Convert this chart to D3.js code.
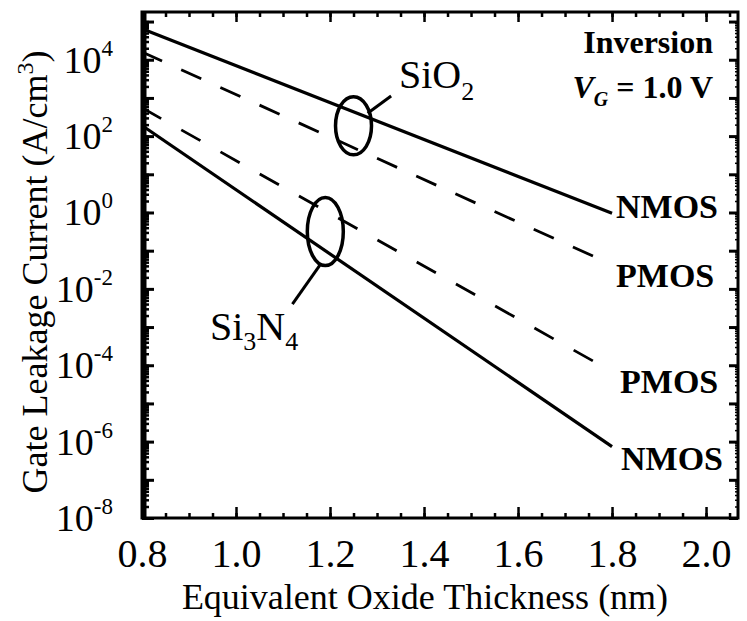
<!DOCTYPE html>
<html>
<head>
<meta charset="utf-8">
<script src="https://cdn.jsdelivr.net/npm/d3@7"></script>
<style>
  body { margin: 0; background: #fff; }
  svg { display: block; font-family: "Liberation Serif", "Times New Roman", serif; }
</style>
</head>
<body>
<div id="chart"></div>
<script>

// data
const THICKNESS = [0.8, 1.8];
const SIO2_NMOS = [6.5e4, 0.95];
const SIO2_PMOS = [1.6e4, 4.3e-2];
const SI3N4_PMOS = [5.5e2, 6.8e-5];
const SI3N4_NMOS = [1.9e2, 7.4e-7];

const X_TICKS = [0.8, 1.0, 1.2, 1.4, 1.6, 1.8, 2.0];
const Y_TICK_EXP = [-8, -6, -4, -2, 0, 2, 4];

// frame
const FRAME_WIDTH = 747;
const FRAME_HEIGHT = 621;
const PLOT = {left: 142, right: 738, top: 12, bottom: 518};

const SVG = d3.select("#chart")
              .append("svg")
                .attr("width", FRAME_WIDTH)
                .attr("height", FRAME_HEIGHT);

const X_SCALE = d3.scaleLinear()
                  .domain([0.8, 2.068])
                  .range([PLOT.left, PLOT.right]);

const Y_SCALE = d3.scaleLog()
                  .domain([1e-8, Math.pow(10, 5.25)])
                  .range([PLOT.bottom, PLOT.top]);

// minor ticks
const xMinor = d3.range(0.8, 2.07, 0.05);
const yMinor = [];
for (let e = -8; e <= 5; e++) {
  for (let m = 1; m <= 9; m++) {
    const v = m * Math.pow(10, e);
    if (v <= Math.pow(10, 5.25)) yMinor.push(v);
  }
}

// bottom axis, ticks pointing in
SVG.append("g")
    .attr("transform", "translate(0," + PLOT.bottom + ")")
    .call(d3.axisBottom(X_SCALE).tickValues(xMinor).tickSize(-5).tickFormat(""))
    .call(g => g.select(".domain").remove())
    .selectAll("line").attr("stroke-width", 2.5);

SVG.append("g")
    .attr("transform", "translate(0," + PLOT.bottom + ")")
    .call(d3.axisBottom(X_SCALE).tickValues(X_TICKS).tickSize(-11).tickPadding(21).tickFormat(d3.format(".1f")))
    .call(g => g.select(".domain").remove())
    .call(g => g.selectAll("line").attr("stroke-width", 2.5))
    .call(g => g.selectAll("text")
                .attr("font-family", "Liberation Serif")
                .attr("font-size", 40)
                .attr("fill", "#000"));

// top axis
SVG.append("g")
    .attr("transform", "translate(0," + PLOT.top + ")")
    .call(d3.axisTop(X_SCALE).tickValues(xMinor).tickSize(-5).tickFormat(""))
    .call(g => g.select(".domain").remove())
    .selectAll("line").attr("stroke-width", 2.5);

SVG.append("g")
    .attr("transform", "translate(0," + PLOT.top + ")")
    .call(d3.axisTop(X_SCALE).tickValues(X_TICKS).tickSize(-10).tickFormat(""))
    .call(g => g.select(".domain").remove())
    .selectAll("line").attr("stroke-width", 2.5);

// left axis, dense log ticks
SVG.append("g")
    .attr("transform", "translate(" + PLOT.left + ",0)")
    .call(d3.axisLeft(Y_SCALE).tickValues(yMinor).tickSize(-7).tickFormat(""))
    .call(g => g.select(".domain").remove())
    .selectAll("line").attr("stroke-width", 2.5);

SVG.append("g")
    .attr("transform", "translate(" + PLOT.left + ",0)")
    .call(d3.axisLeft(Y_SCALE).tickValues(d3.range(-8, 6).map(e => Math.pow(10, e))).tickSize(-12).tickFormat(""))
    .call(g => g.select(".domain").remove())
    .selectAll("line").attr("stroke-width", 3);

// right axis
SVG.append("g")
    .attr("transform", "translate(" + PLOT.right + ",0)")
    .call(d3.axisRight(Y_SCALE).tickValues(yMinor).tickSize(-3).tickFormat(""))
    .call(g => g.select(".domain").remove())
    .selectAll("line").attr("stroke-width", 1.5);

SVG.append("g")
    .attr("transform", "translate(" + PLOT.right + ",0)")
    .call(d3.axisRight(Y_SCALE).tickValues(d3.range(-8, 6).map(e => Math.pow(10, e))).tickSize(-9).tickFormat(""))
    .call(g => g.select(".domain").remove())
    .selectAll("line").attr("stroke-width", 3);

// y tick labels 10^n
const yLabels = SVG.append("g")
    .selectAll("text")
    .data(Y_TICK_EXP)
    .enter()
    .append("text")
      .attr("x", 113)
      .attr("y", (d) => { return Y_SCALE(Math.pow(10, d)) + 13; })
      .attr("text-anchor", "end")
      .attr("font-size", 38);

yLabels.append("tspan").text("10");
yLabels.append("tspan")
    .attr("dy", -17)
    .attr("font-size", 23)
    .text((d) => { return d < 0 ? "-" + Math.abs(d) : "" + d; });

// frame box
SVG.append("rect")
    .attr("x", PLOT.left)
    .attr("y", PLOT.top)
    .attr("width", PLOT.right - PLOT.left)
    .attr("height", PLOT.bottom - PLOT.top)
    .attr("fill", "none")
    .attr("stroke", "#000")
    .attr("stroke-width", 3);

SVG.append("line")
    .attr("x1", PLOT.left + 2).attr("x2", PLOT.left + 2)
    .attr("y1", PLOT.top).attr("y2", PLOT.bottom)
    .attr("stroke", "#000")
    .attr("stroke-width", 5);

// curves
const LINE = d3.line()
               .x((d) => { return X_SCALE(d[0]); })
               .y((d) => { return Y_SCALE(d[1]); });

const SERIES = [
  {name: "NMOS", vals: SIO2_NMOS, dash: null, dx: 4, dy: 5},
  {name: "PMOS", vals: SIO2_PMOS, dash: "22,21", dx: 4, dy: 22},
  {name: "PMOS", vals: SI3N4_PMOS, dash: "22,23", dx: 8, dy: 21},
  {name: "NMOS", vals: SI3N4_NMOS, dash: null, dx: 9, dy: 23}
];

SERIES.forEach((s) => {
  const pts = THICKNESS.map((t, i) => { return [t, s.vals[i]]; });
  SVG.append("path")
      .attr("d", LINE(pts))
      .attr("fill", "none")
      .attr("stroke", "#000")
      .attr("stroke-width", s.dash ? 2.8 : 3.2)
      .attr("stroke-dasharray", s.dash);

  SVG.append("text")
      .attr("x", X_SCALE(1.8) + s.dx)
      .attr("y", Y_SCALE(s.vals[1]) + s.dy)
      .attr("font-size", 34)
      .attr("font-weight", "bold")
      .text(s.name);
});

// ellipses marking the groups
const ELLIPSES = [
  {x: 1.25, y: Math.pow(10, 2.27), rx: 18, ry: 29, lead: [[1.28, 2.6], [1.33, 3.05]]},
  {x: 1.19, y: Math.pow(10, -0.5), rx: 18, ry: 34, lead: [[1.18, -1.35], [1.12, -2.4]]}
];

ELLIPSES.forEach((e) => {
  SVG.append("ellipse")
      .attr("cx", X_SCALE(e.x))
      .attr("cy", Y_SCALE(e.y))
      .attr("rx", e.rx)
      .attr("ry", e.ry)
      .attr("fill", "none")
      .attr("stroke", "#000")
      .attr("stroke-width", 3.5);
  SVG.append("line")
      .attr("x1", X_SCALE(e.lead[0][0])).attr("y1", Y_SCALE(Math.pow(10, e.lead[0][1])))
      .attr("x2", X_SCALE(e.lead[1][0])).attr("y2", Y_SCALE(Math.pow(10, e.lead[1][1])))
      .attr("stroke", "#000")
      .attr("stroke-width", 3);
});

// SiO2 label
const sio2 = SVG.append("text")
    .attr("x", 399)
    .attr("y", 88)
    .attr("font-size", 40);
sio2.append("tspan").text("SiO");
sio2.append("tspan").attr("dy", 12).attr("font-size", 26).text("2");

// Si3N4 label
const si3n4 = SVG.append("text")
    .attr("x", 210)
    .attr("y", 340)
    .attr("font-size", 40);
si3n4.append("tspan").text("Si");
si3n4.append("tspan").attr("dy", 10).attr("font-size", 26).text("3");
si3n4.append("tspan").attr("dy", -10).text("N");
si3n4.append("tspan").attr("dy", 10).attr("font-size", 26).text("4");

// condition text
SVG.append("text")
    .attr("x", 713)
    .attr("y", 53)
    .attr("text-anchor", "end")
    .attr("font-size", 32)
    .attr("font-weight", "bold")
    .text("Inversion");

const vg = SVG.append("text")
    .attr("x", 713)
    .attr("y", 98)
    .attr("text-anchor", "end")
    .attr("font-size", 32)
    .attr("font-weight", "bold");
vg.append("tspan").attr("font-style", "italic").text("V");
vg.append("tspan").attr("font-style", "italic").attr("font-size", 20).attr("dy", 8).text("G");
vg.append("tspan").attr("dy", -8).text(" = 1.0 V");

// axis titles
SVG.append("text")
    .attr("x", 425)
    .attr("y", 609)
    .attr("text-anchor", "middle")
    .attr("font-size", 36)
    .text("Equivalent Oxide Thickness (nm)");

const yTitle = SVG.append("text")
    .attr("transform", "translate(47,272) rotate(-90)")
    .attr("text-anchor", "middle")
    .attr("font-size", 36);
yTitle.append("tspan").text("Gate Leakage Current (A/cm");
yTitle.append("tspan").attr("dy", -14).attr("font-size", 24).text("3");
yTitle.append("tspan").attr("dy", 14).text(")");

</script>
</body>
</html>
